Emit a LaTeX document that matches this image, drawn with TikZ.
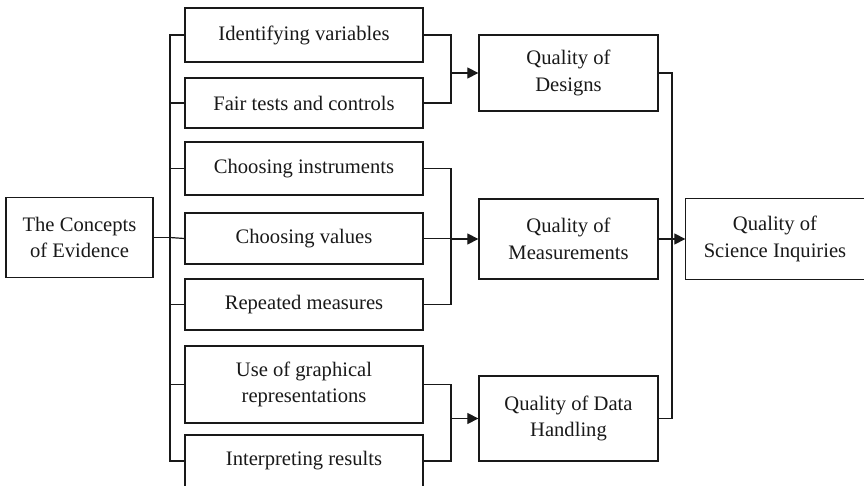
\documentclass[tikz,border=0pt]{standalone}
\usepackage{fontspec}
\setmainfont{Liberation Serif}
\usetikzlibrary{arrows.meta}
\begin{document}
\begin{tikzpicture}[x=1pt,y=-1pt,
  boxline/.style={draw=black!90, line width=1.3pt},
  box/.style={boxline, inner sep=0pt, align=center,
    font=\fontsize{20.6}{26.5}\selectfont, text=black!90},
  conn/.style={draw=black!90, line width=1.2pt},
  arr/.style={conn, -{Triangle[length=11pt,width=11pt]}}]
\clip (0,0) rectangle (864,486);
\fill[white] (0,0) rectangle (864,486);
% nodes
\node[box, minimum width=147pt, minimum height=80pt] (ce) at (79.5,237.5) {The Concepts\\of Evidence};
\node[box, minimum width=238pt, minimum height=54pt] (iv) at (304,35) {Identifying variables};
\node[box, minimum width=238pt, minimum height=50pt] (ft) at (304,103) {Fair tests and controls};
\node[box, minimum width=238pt, minimum height=53pt] (ci) at (304,168.5) {Choosing instruments};
\node[box, minimum width=238pt, minimum height=51pt] (cv) at (304,238.5) {Choosing values};
\node[box, minimum width=238pt, minimum height=51pt] (rm) at (304,304.5) {Repeated measures};
\node[box, minimum width=238pt, minimum height=77pt] (ug) at (304,384.5) {Use of graphical\\representations};
\node[box, minimum width=238pt, minimum height=52pt] (ir) at (304,461) {Interpreting results};
\node[box, minimum width=179pt, minimum height=76pt] (qd) at (568.5,73) {Quality of\\Designs};
\node[box, minimum width=179pt, minimum height=80pt] (qm) at (568.5,239) {Quality of\\Measurements};
\node[box, minimum width=179pt, minimum height=85pt] (qh) at (568.5,418.5) {Quality of Data\\Handling};
\node[box, draw=none, minimum width=178pt, minimum height=80pt] (sq) at (775,239) {Quality of\\Science Inquiries};
\draw[boxline] ([xshift=200pt]sq.north west) -- (sq.north west) -- (sq.south west) -- ([xshift=200pt]sq.south west);
% coordinates for buses
\coordinate (b0) at (170,0);
\coordinate (r1) at (451,0);
\coordinate (r2) at (672,0);
% left bus
\draw[conn, line width=1.5pt] (iv.west) -- (iv.west -| b0) -- (ir.west -| b0) -- (ir.west);
\foreach \n in {ft,ci,rm,ug}{\draw[conn] (\n.west) -- (\n.west -| b0);}
\draw[conn, line width=1.6pt] (ce.east) -- (ce.east -| b0);
\draw[conn] (ce.east -| b0) -- (cv.west);
% designs group
\draw[conn] (iv.east) -- (iv.east -| r1) -- (ft.east -| r1) -- (ft.east);
\draw[arr] (r1 |- qd.west) -- (qd.west);
% measurements group
\draw[conn] (ci.east) -- (ci.east -| r1) -- (rm.east -| r1) -- (rm.east);
\draw[conn] (cv.east) -- (cv.east -| r1);
\draw[arr] (r1 |- qm.west) -- (qm.west);
% data group
\draw[conn] (ug.east) -- (ug.east -| r1) -- (ir.east -| r1) -- (ir.east);
\draw[arr] (r1 |- qh.west) -- (qh.west);
% final
\draw[conn] (qd.east) -- (qd.east -| r2) -- (qh.east -| r2) -- (qh.east);
\draw[conn] (qm.east) -- (qm.east -| r2);
\draw[arr] (r2 |- sq.west) -- (sq.west);
\end{tikzpicture}
\end{document}
